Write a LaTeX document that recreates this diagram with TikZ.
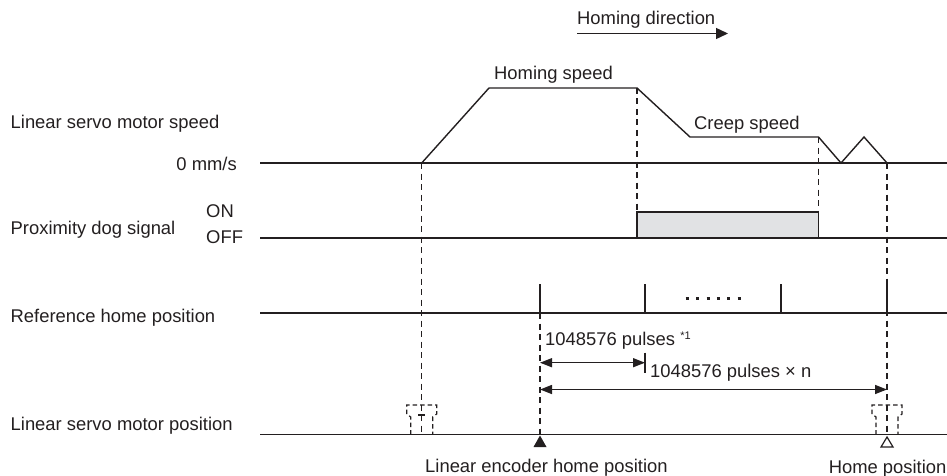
\documentclass[tikz,border=0pt]{standalone}
\usepackage{fontspec}
\setmainfont{Liberation Sans}
\usetikzlibrary{arrows.meta}
\definecolor{ink}{HTML}{231F20}
\definecolor{dogfill}{HTML}{E1E2E4}
\newcommand{\dgfont}{\fontsize{18.4}{22}\selectfont}
\begin{document}
\begin{tikzpicture}[x=1pt,y=-1pt,
  lbl/.style={font=\dgfont, text=ink, inner sep=0pt, anchor=base west},
  axisln/.style={draw=ink, line width=1.4pt},
  trace/.style={draw=ink, line width=1.4pt, line join=miter},
  guide/.style={draw=ink, line width=1.4pt, dash pattern=on 6pt off 4.5pt},
  tickln/.style={draw=ink, line width=1.4pt},
  dimarrow/.style={draw=ink, line width=1.4pt, {Triangle[length=12pt,width=9pt]}-{Triangle[length=12pt,width=9pt]}},
  bracketln/.style={draw=ink, line width=1.2pt, dash pattern=on 4.5pt off 3pt}]
\useasboundingbox (0,0) rectangle (947,476);

% homing direction
\node[lbl] (hdir) at (577,25) {Homing direction};
\coordinate (hdA) at (577,33.5);
\coordinate (hdB) at (728,33.5);
\draw[draw=ink, line width=1.4pt, -{Triangle[length=12pt,width=11pt]}] (hdA) -- (hdB);

% left labels
\node[lbl] (lspeed) at (10.5,128.3) {Linear servo motor speed};
\node[lbl, anchor=base east] (lzero) at (237,170) {0 mm/s};
\node[lbl] (ldog) at (10.5,234) {Proximity dog signal};
\node[lbl] (lon) at (206,217.3) {ON};
\node[lbl] (loff) at (206,243.3) {OFF};
\node[lbl] (lref) at (10.5,322.3) {Reference home position};
\node[lbl] (lpos) at (10.5,430.7) {Linear servo motor position};

% axes
\coordinate (sA) at (260,163);   \coordinate (sB) at (947,163);
\coordinate (dA) at (260,238);   \coordinate (dB) at (947,238);
\coordinate (rA) at (260,313);   \coordinate (rB) at (947,313);
\coordinate (mA) at (260,434.5); \coordinate (mB) at (947,434.5);
\draw[axisln] (sA) -- (sB);
\draw[axisln] (dA) -- (dB);
\draw[axisln] (rA) -- (rB);
\draw[axisln] (mA) -- (mB);

% speed profile
\coordinate (p0) at (421.7,163);
\coordinate (p1) at (489,88);
\coordinate (p2) at (637,88);
\coordinate (p3) at (690,137);
\coordinate (p4) at (818.5,137);
\coordinate (p5) at (841,163);
\coordinate (p6) at (864,137);
\coordinate (p7) at (887,163);
\draw[trace] (p0) -- (p1) -- (p2) -- (p3) -- (p4) -- (p5) -- (p6) -- (p7);
\node[lbl] (lhs) at (494,80) {Homing speed};
\node[lbl] (lcs) at (694,129) {Creep speed};

% proximity dog
\coordinate (r1) at (637,212);
\coordinate (r2) at (818.5,238);
\draw[draw=ink, line width=1.4pt, fill=dogfill] (r1) rectangle (r2);

% reference home ticks
\coordinate (t1a) at (540,284); \coordinate (t1b) at (540,313);
\coordinate (t2a) at (645,284); \coordinate (t2b) at (645,313);
\coordinate (t3a) at (781,284); \coordinate (t3b) at (781,313);
\coordinate (t4a) at (887,284); \coordinate (t4b) at (887,313);
\draw[tickln] (t1a) -- (t1b);
\draw[tickln] (t2a) -- (t2b);
\draw[tickln] (t3a) -- (t3b);
\draw[tickln] (t4a) -- (t4b);
\coordinate (dotA) at (685.7,298.5);
\coordinate (dotB) at (741,298.5);
\draw[draw=ink, line width=3pt, dash pattern=on 3pt off 7.4pt] (dotA) -- (dotB);

% guide lines
\coordinate (g0) at (421.7,434.5);
\coordinate (g7) at (887,434.5);
\coordinate (ge) at (540,434.5);
\coordinate (r1b) at (818.5,212);
\draw[guide] (p0) -- (g0);
\draw[guide] (p7) -- (g7);
\draw[guide] (t1b) -- (ge);
\draw[guide] (p2) -- (r1);
\draw[guide] (p4) -- (r1b);

% dimensions
\coordinate (d1a) at (540,362.7);
\coordinate (d1b) at (645,362.7);
\coordinate (d2a) at (540,389.5);
\coordinate (d2b) at (887,389.5);
\coordinate (k1) at (645,352.5);
\coordinate (k2) at (645,372.5);
\draw[dimarrow] (d1a) -- (d1b);
\draw[dimarrow] (d2a) -- (d2b);
\draw[tickln, line width=1.2pt] (k1) -- (k2);
\node[lbl] (lp1) at (545,345) {1048576 pulses \raisebox{0.55ex}{\fontsize{11}{12}\selectfont *1}};
\node[lbl] (lp2) at (650,377.3) {1048576 pulses × n};

% brackets
\foreach \c/\nm in {421.7/bl, 887/br}{
  \coordinate (\nm a) at (\c-11,434.5);
  \coordinate (\nm b) at (\c-11,417);
  \coordinate (\nm c) at (\c-15,414);
  \coordinate (\nm d) at (\c-15,405);
  \coordinate (\nm e) at (\c+15,405);
  \coordinate (\nm f) at (\c+15,414);
  \coordinate (\nm g) at (\c+11,417);
  \coordinate (\nm h) at (\c+11,434.5);
  \draw[bracketln] (\nm a) -- (\nm b) -- (\nm c) -- (\nm d) -- (\nm e) -- (\nm f) -- (\nm g) -- (\nm h);
}
\coordinate (plA) at (418.2,415);
\coordinate (plB) at (425.2,415);
\draw[draw=ink, line width=1.2pt] (plA) -- (plB);

% markers
\coordinate (mk1) at (540,435.5);
\coordinate (mk1l) at (533.5,447);
\coordinate (mk1r) at (546.5,447);
\fill[ink] (mk1) -- (mk1l) -- (mk1r) -- cycle;
\coordinate (mk2) at (887,437);
\coordinate (mk2l) at (881,447);
\coordinate (mk2r) at (893,447);
\draw[draw=ink, line width=1.2pt, line join=miter] (mk2) -- (mk2l) -- (mk2r) -- cycle;

\node[lbl] (lenc) at (425,472.3) {Linear encoder home position};
\node[lbl, anchor=base east] (lhome) at (946.6,473.5) {Home position};
\end{tikzpicture}
\end{document}
